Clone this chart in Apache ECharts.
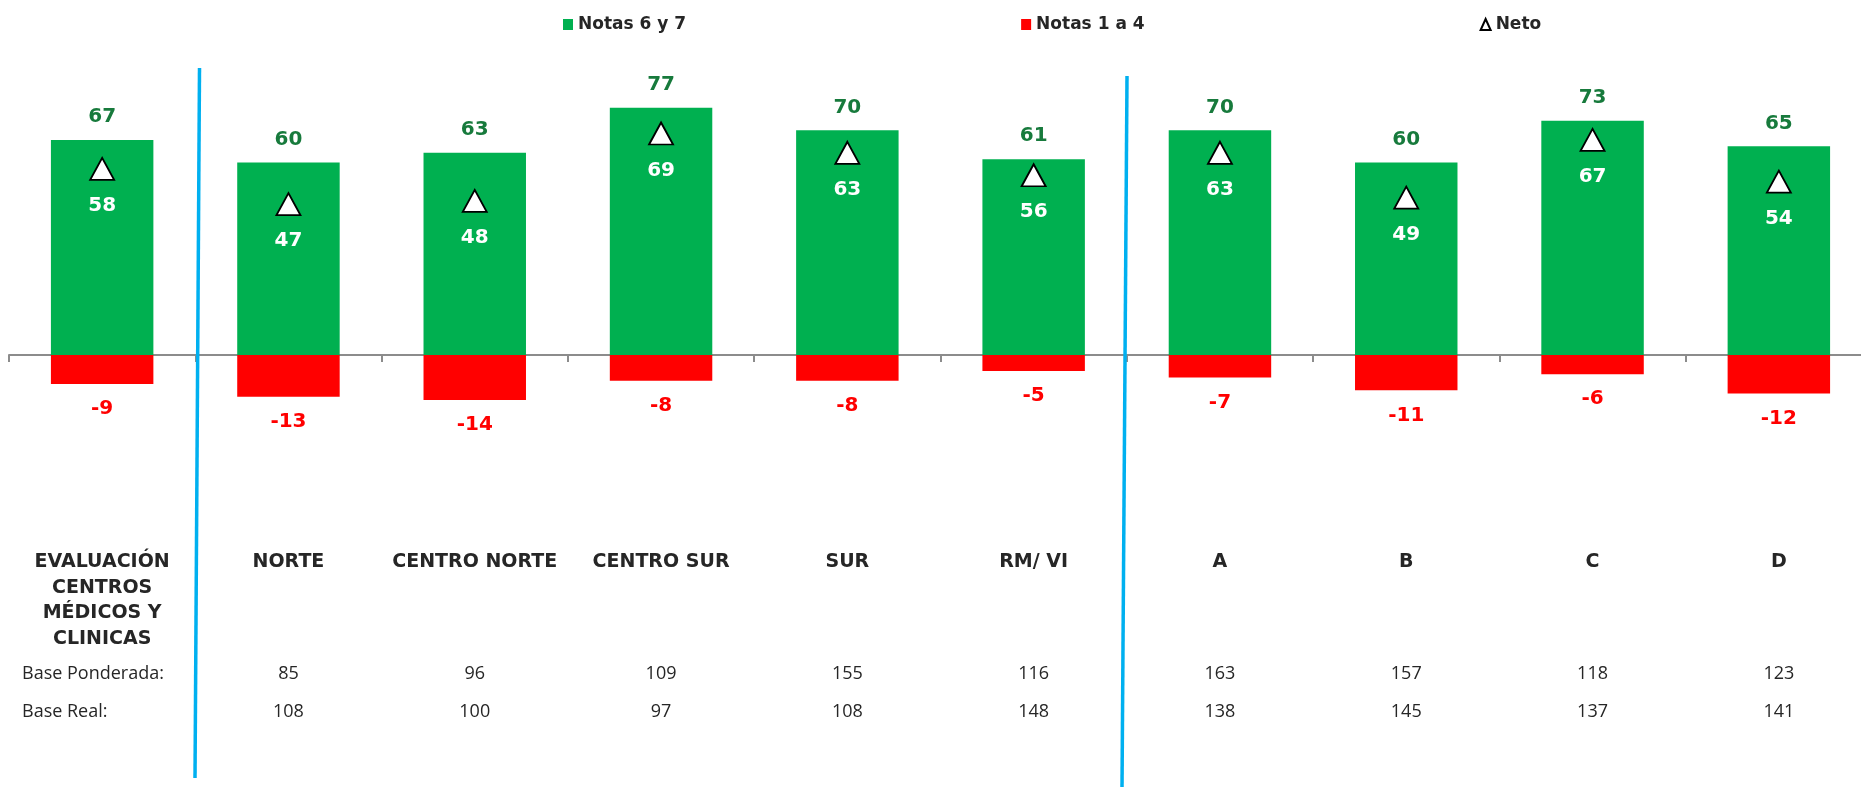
<!DOCTYPE html>
<html>
<head>
<meta charset="utf-8">
<script src="https://cdn.jsdelivr.net/npm/echarts@6/dist/echarts.min.js"></script>
<style>
    html, body { margin: 0; padding: 0; background: #fff; }
    #chart { width: 1861px; height: 787px; }
</style>
</head>
<body>
<div id="chart"></div>
<script>
    // categorias y valores
    const categorias = ['EVALUACIÓN\nCENTROS\nMÉDICOS Y\nCLINICAS', 'NORTE', 'CENTRO NORTE', 'CENTRO SUR', 'SUR', 'RM/ VI', 'A', 'B', 'C', 'D'];
    const notas67 = [67, 60, 63, 77, 70, 61, 70, 60, 73, 65];
    const notas14 = [-9, -13, -14, -8, -8, -5, -7, -11, -6, -12];
    const neto = [58, 47, 48, 69, 63, 56, 63, 49, 67, 54];
    const basePonderada = ['', '85', '96', '109', '155', '116', '163', '157', '118', '123'];
    const baseReal = ['', '108', '100', '97', '108', '148', '138', '145', '137', '141'];
    const filasBase = ['Base Ponderada:', 'Base Real:'];

    const verde = '#00B050';
    const rojo = '#FF0000';
    const fuenteBold = 'DejaVu Sans';

    const myChart = echarts.init(document.getElementById('chart'));

    const option = {
        animation: false,
        legend: {
            top: 11,
            left: 558,
            itemGap: 335,
            itemWidth: 10,
            itemHeight: 11,
            textStyle: {fontFamily: fuenteBold, fontWeight: 'bold', fontSize: 17, color: '#262626'},
            data: [
                {name: 'Notas 6 y 7', icon: 'rect'},
                {name: 'Notas 1 a 4', icon: 'rect'},
                {name: 'Neto', icon: 'triangle'}
            ]
        },
        grid: {
            left: 9,
            right: -11,
            top: 34,
            bottom: 239.4,
            containLabel: false,
            outerBoundsMode: 'none'
        },
        xAxis: [
            {
                type: 'category',
                data: categorias,
                axisLine: {onZero: true, lineStyle: {color: '#8c8c8c', width: 2}},
                axisTick: {show: true, length: 7, lineStyle: {color: '#8c8c8c', width: 2}},
                axisLabel: {
                    interval: 0,
                    margin: 2,
                    fontFamily: fuenteBold,
                    fontWeight: 'bold',
                    fontSize: 19,
                    lineHeight: 25.5,
                    color: '#262626'
                }
            },
            {
                type: 'category',
                data: basePonderada,
                position: 'bottom',
                axisLine: {show: false, onZero: false},
                axisTick: {show: false},
                axisLabel: {interval: 0, margin: 117, fontFamily: 'Open Sans', fontSize: 18, color: '#262626'}
            },
            {
                type: 'category',
                data: baseReal,
                position: 'bottom',
                axisLine: {show: false, onZero: false},
                axisTick: {show: false},
                axisLabel: {interval: 0, margin: 155, fontFamily: 'Open Sans', fontSize: 18, color: '#262626'}
            }
        ],
        yAxis: {
            type: 'value',
            min: -60,
            max: 100,
            show: false,
            splitLine: {show: false}
        },
        series: [
            {
                name: 'Notas 6 y 7',
                type: 'bar',
                barWidth: '55%',
                barGap: '-100%',
                itemStyle: {color: verde},
                label: {
                    show: true,
                    position: 'top',
                    distance: 13,
                    fontFamily: fuenteBold,
                    fontWeight: 'bold',
                    fontSize: 20,
                    color: '#177a3c'
                },
                data: notas67
            },
            {
                name: 'Notas 1 a 4',
                type: 'bar',
                barWidth: '55%',
                barGap: '-100%',
                itemStyle: {color: rojo},
                label: {
                    show: true,
                    position: 'bottom',
                    distance: 15,
                    fontFamily: fuenteBold,
                    fontWeight: 'bold',
                    fontSize: 20,
                    color: rojo
                },
                data: notas14
            },
            {
                name: 'Neto',
                type: 'scatter',
                symbol: 'triangle',
                symbolSize: [24, 22],
                z: 5,
                itemStyle: {color: '#ffffff', borderColor: '#000000', borderWidth: 1.8, opacity: 1},
                label: {
                    show: true,
                    position: 'inside',
                    offset: [0, 37],
                    formatter: function (p) {
                        return p.value;
                    },
                    fontFamily: fuenteBold,
                    fontWeight: 'bold',
                    fontSize: 20,
                    color: '#ffffff',
                    opacity: 1
                },
                data: neto
            }
        ],
        graphic: [
            // separadores azules
            {type: 'line', z: 10, shape: {x1: 199.5, y1: 68, x2: 195, y2: 778}, style: {stroke: '#00B0F0', lineWidth: 3.5}},
            {type: 'line', z: 10, shape: {x1: 1127, y1: 76, x2: 1122, y2: 787}, style: {stroke: '#00B0F0', lineWidth: 3.5}},
            {type: 'text', x: 22, y: 674, style: {text: filasBase[0], fill: '#262626', font: '18px "Open Sans"', verticalAlign: 'middle'}},
            {type: 'text', x: 22, y: 711.5, style: {text: filasBase[1], fill: '#262626', font: '18px "Open Sans"', verticalAlign: 'middle'}}
        ]
    };

    myChart.setOption(option);
</script>
</body>
</html>
